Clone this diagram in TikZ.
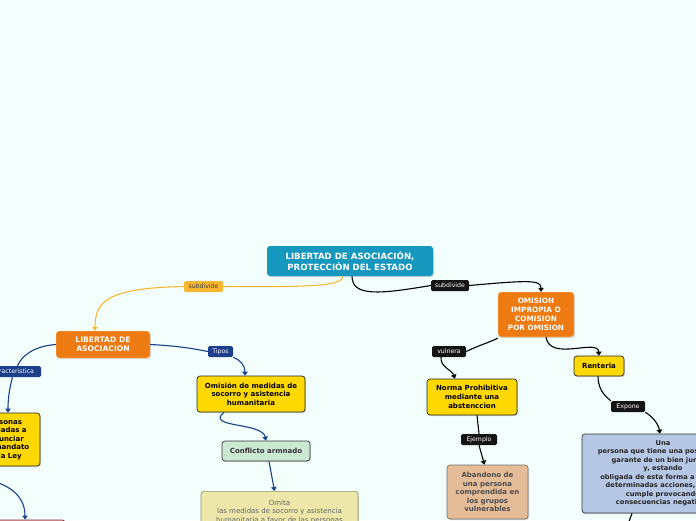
\documentclass[tikz,border=0pt]{standalone}
\usepackage{fontspec}
\setmainfont{DejaVu Sans}
\usetikzlibrary{arrows.meta,shadows}
\definecolor{bg}{RGB}{243,255,253}
\definecolor{teal}{RGB}{22,152,190}
\definecolor{orng}{RGB}{238,122,18}
\definecolor{yel}{RGB}{255,216,0}
\definecolor{dblue}{RGB}{27,63,139}
\definecolor{olab}{RGB}{249,183,48}
\definecolor{grn}{RGB}{203,232,211}
\definecolor{beige}{RGB}{237,231,169}
\definecolor{beigeb}{RGB}{150,145,100}
\definecolor{tan}{RGB}{229,188,152}
\definecolor{lblue}{RGB}{182,200,230}
\definecolor{dred}{RGB}{142,59,70}
\definecolor{pink}{RGB}{232,170,170}
\tikzset{
  box/.style={rounded corners=3pt, align=center, inner sep=1pt,
    font=\fontsize{7}{8.6}\selectfont\bfseries,
    drop shadow={shadow xshift=1pt, shadow yshift=-1.2pt, opacity=0.3}},
  ybox/.style={box, fill=yel, draw=black!85, line width=0.7pt},
  lab/.style={rounded corners=1.5pt, inner sep=1pt, minimum height=11pt,
    font=\fontsize{6.2}{7}\selectfont, text=white},
  blab/.style={lab, fill=black!92},
  dlab/.style={lab, fill=dblue},
  con/.style={line width=1.1pt},
  arr/.style={con, -{Triangle[width=5.5pt,length=4pt]}},
}
\begin{document}
\begin{tikzpicture}[x=1pt,y=-1pt]
\useasboundingbox (0,0) rectangle (696,520);
\fill[bg] (0,0) rectangle (696,520);
\clip (0,0) rectangle (696,520);

% nodes
\node[box, fill=teal, text=white, minimum width=166pt, minimum height=30pt,
  font=\fontsize{8.6}{10.7}\selectfont\bfseries] (main) at (350,261)
  {LIBERTAD DE ASOCIACIÓN,\\ PROTECCIÓN DEL ESTADO};
\node[box, fill=orng, text=white, draw=white!80!orng, minimum width=94pt, minimum height=27pt,
  font=\fontsize{7.6}{9}\selectfont\bfseries] (lib) at (103,344.5)
  {LIBERTAD DE\\ASOCIACION};
\node[box, fill=orng, text=white, draw=white!80!orng, minimum width=76pt, minimum height=45pt,
  font=\fontsize{7.3}{9}\selectfont\bfseries] (omi) at (536,314.5)
  {OMISION\\IMPROPIA O\\COMISION\\POR OMISION};
\node[ybox, minimum width=72pt, minimum height=53pt] (pers) at (4,439.5)
  {Personas\\obligadas a\\denunciar\\por mandato\\de la Ley};
\node[ybox, minimum width=108pt, minimum height=36pt] (omed) at (251,394)
  {Omisión de medidas de\\socorro y asistencia\\humanitaria};
\node[box, fill=grn, draw=black!80, line width=0.7pt, text=black!80, minimum width=88pt, minimum height=20pt] (conf) at (266,451)
  {Conflicto armnado};
\node[box, fill=beige, draw=beigeb, line width=0.7pt, text=black!60, anchor=north,
  minimum width=157pt, minimum height=50pt, font=\fontsize{7}{8.7}\selectfont, inner sep=4pt] (omita) at (279.5,491)
  {Omita\\las medidas de socorro y asistencia\\humanitaria a favor de las personas\\protegidas};
\node[ybox, minimum width=90pt, minimum height=36pt, font=\fontsize{7}{9}\selectfont\bfseries] (norma) at (472,397)
  {Norma Prohibitiva\\mediante una\\abstenccion};
\node[box, fill=tan, draw=black!55, line width=0.7pt, text=black!70, minimum width=81pt, minimum height=54pt] (aband) at (487.5,492)
  {Abandono de\\una persona\\comprendida en\\los grupos\\vulnerables};
\node[ybox, minimum width=50pt, minimum height=20pt] (rent) at (599,366) {Renteria};
\node[box, fill=lblue, draw=black!80, line width=0.7pt, text=black!85, minimum width=162pt, minimum height=79pt,
  font=\fontsize{6.7}{8.5}\selectfont\bfseries] (una) at (663,473.5)
  {Una\\persona que tiene una posición de\\garante de un bien jurídico\\y, estando\\obligada de esta forma a realizar\\determinadas acciones, no las\\cumple provocando\\consecuencias negativas};
\node[box, fill=pink, draw=dred, line width=0.8pt, anchor=north, minimum width=90pt, minimum height=20pt] (pinkb) at (20,519.5) {};
\coordinate (offl) at (-20,478);
\coordinate (offb) at (624,535);

% labels
\node[lab, fill=olab, text=black!75, minimum width=39pt] (sub1) at (203.5,286.5) {subdivide};
\node[blab, minimum width=38pt] (sub2) at (450,285.5) {subdivide};
\node[dlab, minimum width=25pt] (tipos) at (220.5,351.5) {Tipos};
\node[dlab, minimum width=57pt] (carac) at (12.5,371.5) {Caracteristica};
\node[blab, minimum width=34pt] (vuln) at (449,351.5) {vulnera};
\node[blab, minimum width=34pt] (expo) at (628,406.5) {Expone};
\node[blab, minimum width=36pt] (ejem) at (479,439.5) {Ejemplo};

% connectors
\draw[con, olab] ([xshift=-7pt]main.south) .. controls (343,287) and (300,287) .. (sub1.east);
\draw[arr, olab] (sub1.west) .. controls (110,288) and (95,300) .. ([xshift=-8pt]lib.north);
\draw[con, black] ([xshift=2pt]main.south) .. controls (352,297) and (380,294) .. (sub2.west);
\draw[arr, black] (sub2.east) .. controls (530,280) and (541,280) .. ([xshift=5pt]omi.north);
\draw[con, dblue] (lib.east) .. controls (180,346) and (195,349) .. (tipos.west);
\draw[arr, dblue] (tipos.south east) .. controls (240,360) and (245,365) .. ([xshift=-6pt]omed.north);
\draw[con, dblue] (lib.west) .. controls (35,346) and (22,355) .. ([xshift=5pt]carac.north);
\draw[arr, dblue] ([xshift=0pt]carac.south) .. controls (9,390) and (8,400) .. ([xshift=4pt]pers.north);
\draw[arr, dblue] ([xshift=-27pt]omed.south) .. controls (205,428) and (262,422) .. (conf.north);
\draw[arr, dblue] ([xshift=3pt]conf.south) -- ([xshift=-5pt]omita.north);
\draw[arr, dblue] (offl) .. controls (15,484) and (25,500) .. ([xshift=5pt]pinkb.north);
\draw[con, black] ([yshift=-1pt]omi.south west) .. controls (490,342) and (475,347) .. (vuln.east);
\draw[arr, black] ([xshift=-8pt]vuln.south) .. controls (440,367) and (452,370) .. ([xshift=-17pt]norma.north);
\draw[arr, black] ([xshift=10pt]omi.south) .. controls (550,362) and (598,338) .. (rent.north);
\draw[con, black] ([xshift=-1pt]rent.south) .. controls (598,392) and (608,398) .. (expo.north west);
\draw[arr, black] (expo.south east) .. controls (650,415) and (658,422) .. ([xshift=-3pt]una.north);
\draw[con, black] ([xshift=5pt]norma.south) -- (ejem.north);
\draw[arr, black] (ejem.south) -- ([xshift=-3pt]aband.north);
\draw[con, black] ([xshift=-31pt]una.south) -- (offb);
\end{tikzpicture}
\end{document}
